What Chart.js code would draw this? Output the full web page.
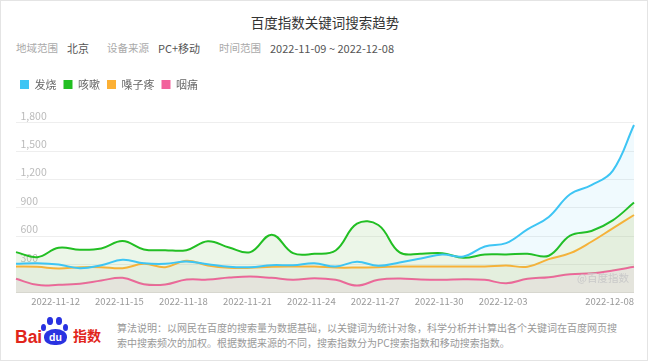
<!DOCTYPE html>
<html><head><meta charset="utf-8">
<script src="https://cdn.jsdelivr.net/npm/chart.js@4.4.1/dist/chart.umd.min.js"></script>
<style>
*{box-sizing:border-box}
html,body{margin:0;padding:0;background:#fff}
body{width:650px;height:363px;position:relative;overflow:hidden;font-family:"Noto Sans CJK SC","Noto Sans",sans-serif}
#frame{position:absolute;left:0;top:0;width:648px;height:361px;border:1px solid #e4e4e4}
.t{position:absolute;white-space:nowrap}
#title{left:0;width:650px;text-align:center;top:12px;font-size:13.5px;line-height:20px;color:#333}
.lab{color:#aaa;font-size:10.5px;line-height:14px;top:40.5px}
.val{color:#555;font-size:11px;line-height:14px;top:40.5px}
#cv{position:absolute;left:0;top:72px}
#wm{left:577px;top:271px;font-size:10.5px;line-height:14px;color:#c9c9c9;z-index:2}
#note{left:117px;top:319.5px;font-size:10px;line-height:15px;color:#999}
.toe{position:absolute;background:#2932e1;border-radius:50%}
</style>
</head>
<body>
<div id="frame"></div>
<div class="t" id="title">百度指数关键词搜索趋势</div>
<span class="t lab" style="left:16px">地域范围</span>
<span class="t val" style="left:67px">北京</span>
<span class="t lab" style="left:107px">设备来源</span>
<span class="t val" style="left:158px">PC+移动</span>
<span class="t lab" style="left:219px">时间范围</span>
<span class="t val" style="left:270px">2022-11-09 ~ 2022-12-08</span>
<canvas id="cv" width="650" height="240"></canvas>
<div class="t" id="wm">@百度指数</div>
<span class="t" style="left:15px;top:327px;font:bold 17.5px/20px 'Liberation Sans',Arial,sans-serif;color:#e1251b">Bai</span>
<div class="toe" style="left:41px;top:324px;width:5px;height:7px"></div>
<div class="toe" style="left:47px;top:317px;width:5.5px;height:7.5px"></div>
<div class="toe" style="left:56px;top:317px;width:5.5px;height:7.5px"></div>
<div class="toe" style="left:63px;top:324px;width:5px;height:7px"></div>
<div style="position:absolute;left:44px;top:328.5px;width:23px;height:16px;background:#2932e1;border-radius:50% 50% 45% 45%;color:#fff;font:bold 10.5px/16px 'Liberation Sans',Arial,sans-serif;text-align:center">du</div>
<span class="t" style="left:73px;top:327px;font-size:14px;line-height:16px;font-weight:bold;color:#e1251b">指数</span>
<div class="t" id="note">算法说明：以网民在百度的搜索量为数据基础，以关键词为统计对象，科学分析并计算出各个关键词在百度网页搜<br>索中搜索频次的加权。根据数据来源的不同，搜索指数分为PC搜索指数和移动搜索指数。</div>
<script>
const dates = ['2022-11-09','2022-11-10','2022-11-11','2022-11-12','2022-11-13','2022-11-14','2022-11-15','2022-11-16','2022-11-17','2022-11-18',
  '2022-11-19','2022-11-20','2022-11-21','2022-11-22','2022-11-23','2022-11-24','2022-11-25','2022-11-26','2022-11-27','2022-11-28',
  '2022-11-29','2022-11-30','2022-12-01','2022-12-02','2022-12-03','2022-12-04','2022-12-05','2022-12-06','2022-12-07','2022-12-08'];
const tickDates = ['2022-11-12','2022-11-15','2022-11-18','2022-11-21','2022-11-24','2022-11-27','2022-11-30','2022-12-03','2022-12-08'];
const seriesNames = ['发烧','咳嗽','嗓子疼','咽痛'];
const fever = [308,314,300,261,293,350,314,308,332,304,276,272,293,293,314,279,329,286,322,364,407,385,491,527,672,803,1043,1139,1291,1776];
const cough = [431,378,478,456,470,548,460,452,452,545,480,431,616,420,414,449,732,718,428,414,420,371,407,407,414,393,605,654,767,955];
const soreThroat = [279,276,258,272,272,261,308,272,340,290,266,265,276,279,279,268,268,272,279,279,279,279,279,290,276,357,420,541,683,824];
const throatPain = [149,85,85,96,131,159,92,89,141,141,162,173,159,138,155,138,78,138,152,141,138,145,138,102,149,166,198,208,237,276];
const yMax = 1800, yStep = 300;

const lineColors = ['#3ec5f4','#22bf22','#fcb034','#f2629c'];
const fillColors = ['rgba(61,197,245,0.08)','rgba(160,210,140,0.2)','rgba(147,191,123,0.25)','rgba(147,147,115,0.25)'];
const values = [fever, cough, soreThroat, throatPain];

const legendGap = {
  id: 'legendGap',
  beforeInit(chart) {
    const lg = chart.legend;
    const f = lg.fit;
    lg.fit = function () { f.call(this); this.height += 22.7; };
  }
};

new Chart(document.getElementById('cv'), {
  type: 'line',
  data: {
    labels: dates,
    datasets: seriesNames.map((name, i) => ({
      label: name,
      data: values[i],
      borderColor: lineColors[i],
      backgroundColor: lineColors[i],
      fill: i < 3 ? {target: '+1', above: fillColors[i], below: 'transparent'} : {target: 'origin', above: fillColors[i], below: 'transparent'}
    }))
  },
  options: {
    responsive: false,
    animation: false,
    devicePixelRatio: 1,
    layout: {padding: {left: 13, right: 16, top: 0, bottom: 1.7}},
    elements: {line: {tension: 0.4, borderWidth: 2}, point: {radius: 0, hoverRadius: 0}},
    plugins: {
      legend: {
        display: true, position: 'top', align: 'start',
        labels: {
          boxWidth: 9, boxHeight: 9, padding: 7, color: '#666',
          font: {size: 11, family: '"Noto Sans CJK SC","Noto Sans",sans-serif'},
          generateLabels(chart) {
            const items = Chart.defaults.plugins.legend.labels.generateLabels(chart);
            items.forEach(it => { it.lineWidth = 0; it.strokeStyle = 'transparent'; });
            return items;
          }
        }
      },
      tooltip: {enabled: false}
    },
    scales: {
      x: {
        grid: {display: false, drawTicks: false, tickLength: 0},
        border: {display: false},
        ticks: {
          autoSkip: false, maxRotation: 0, minRotation: 0, align: 'end', padding: 3,
          color: '#999', font: {size: 9.5, family: '"Noto Sans CJK SC","Noto Sans",sans-serif'},
          callback(v, i) { return tickDates.includes(dates[i]) ? dates[i] : ''; }
        }
      },
      y: {
        min: 0, max: yMax,
        afterFit(axis) { axis.width = 3; },
        grid: {color: '#eeeeee', lineWidth: 1, drawTicks: false},
        border: {display: false},
        ticks: {
          stepSize: yStep, mirror: true, padding: 4.5, labelOffset: -7,
          color: '#bbb', font: {size: 10.5, family: '"Noto Sans CJK SC","Noto Sans",sans-serif'},
          callback(v) { return v === 0 ? '' : v.toLocaleString('en-US'); }
        }
      }
    }
  },
  plugins: [legendGap]
});
</script>
</body></html>
